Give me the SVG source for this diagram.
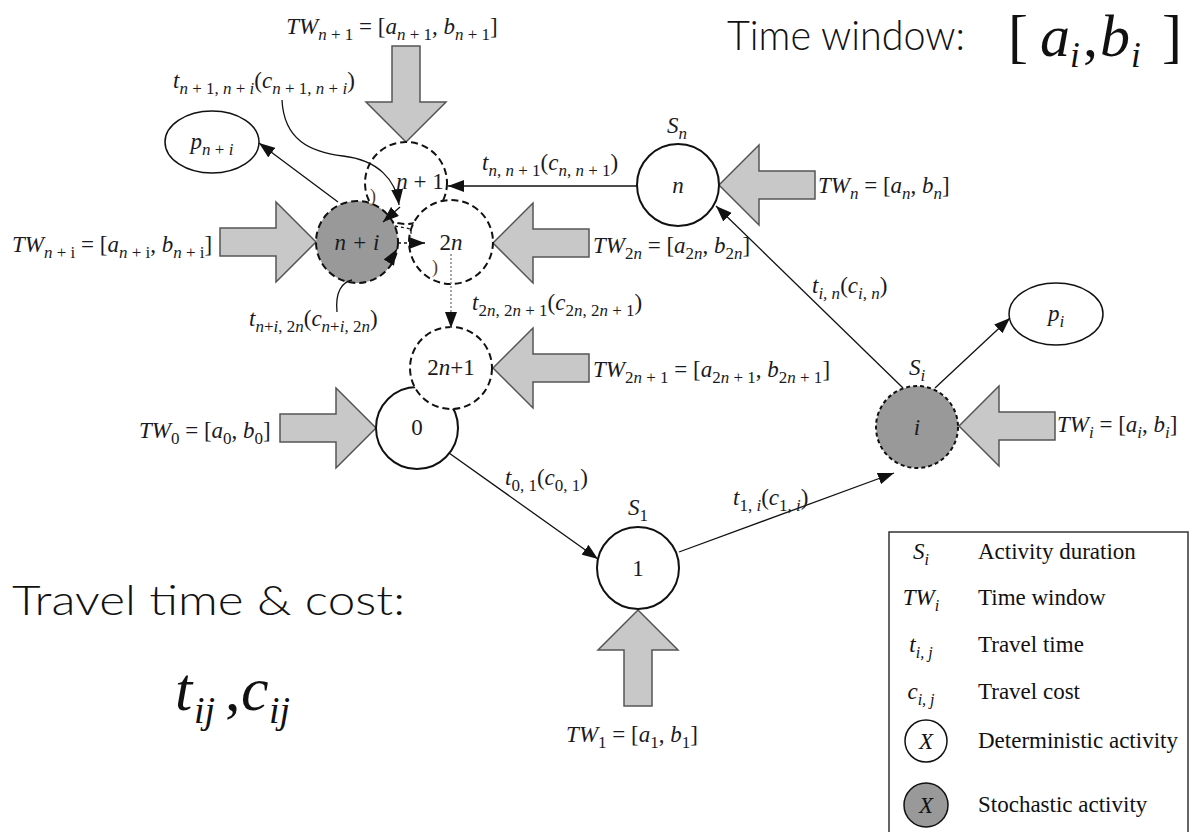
<svg xmlns="http://www.w3.org/2000/svg" width="1192" height="832" viewBox="0 0 1192 832">
<style>
.lb{font-family:"Liberation Serif","Times New Roman",serif;font-size:23px;fill:#1a1a22}
.it{font-style:italic}
.sb{font-size:17px}
.nd{stroke:#111;stroke-width:2}
.ds{stroke-dasharray:7,4}
.dt{stroke-dasharray:4,3}
.wh{fill:#fff}
.gr{fill:#999}
.blk{fill:#c8c8c8;stroke:#555;stroke-width:1.5}
.cn{stroke:#111;stroke-width:1.3;fill:none}
.sans{font-family:Lato,"Open Sans","Liberation Sans",sans-serif;font-size:42px;font-weight:300;fill:#111}
.big{font-family:"Liberation Serif","Times New Roman",serif;fill:#111}
.lg{font-family:"Liberation Serif","Times New Roman",serif;font-size:23px;fill:#111}
.par{font-family:"Liberation Serif",serif;font-size:18px;fill:#5a3a1a}
</style>
<defs>
<polygon id="blk" class="blk" points="-96,-14 -40,-14 -40,-40 0,0 -40,40 -40,14 -96,14"/>
<marker id="ah" viewBox="0 0 16 12" refX="16" refY="6" markerWidth="16" markerHeight="12" markerUnits="userSpaceOnUse" orient="auto">
<path d="M0,0 L16,6 L0,12 z" fill="#111"/>
</marker>
</defs>
<rect width="1192" height="832" fill="#fff"/>

<!-- titles -->
<text class="sans" x="727" y="50" textLength="238" lengthAdjust="spacingAndGlyphs">Time window:</text>
<text class="big" y="56" font-size="60"><tspan x="1008">[</tspan><tspan x="1040" class="it">a</tspan><tspan x="1070" y="67" font-size="35" class="it">i</tspan><tspan x="1083" y="56">,</tspan><tspan x="1100" class="it">b</tspan><tspan x="1131" y="67" font-size="35" class="it">i</tspan><tspan x="1162" y="56">]</tspan></text>
<text class="sans" x="12" y="615" textLength="393" lengthAdjust="spacingAndGlyphs">Travel time &amp; cost:</text>
<text class="big" y="710" font-size="62"><tspan x="175" class="it">t</tspan><tspan x="194" y="723" font-size="38" class="it">ij</tspan><tspan x="225" y="710">,</tspan><tspan x="241" class="it">c</tspan><tspan x="269" y="723" font-size="38" class="it">ij</tspan></text>

<!-- block arrows (time windows) -->
<g id="tw-arrows">
<use href="#blk" transform="translate(406,142) rotate(90)"/>
<use href="#blk" transform="translate(316,242)"/>
<use href="#blk" transform="translate(493,243) rotate(180)"/>
<use href="#blk" transform="translate(719,185) rotate(180)"/>
<use href="#blk" transform="translate(493,368) rotate(180)"/>
<use href="#blk" transform="translate(376,428)"/>
<use href="#blk" transform="translate(959,426) rotate(180)"/>
<use href="#blk" transform="translate(638,610) rotate(-90)"/>
</g>

<!-- nodes -->
<g id="node-n1"><circle class="nd ds wh" cx="406" cy="183" r="41"/></g>
<g id="node-ni"><circle class="nd ds gr" cx="357" cy="242" r="41"/></g>
<g id="node-2n"><circle class="nd ds wh" cx="451" cy="242" r="42"/></g>
<g id="node-0"><circle class="nd wh" cx="417" cy="428" r="41"/></g>
<g id="node-2n1"><circle class="nd ds wh" cx="451" cy="368" r="41"/></g>
<g id="node-n"><circle class="nd wh" cx="678" cy="185" r="41"/></g>
<g id="node-1"><circle class="nd wh" cx="638" cy="568" r="41"/></g>
<g id="node-i"><circle class="nd dt gr" cx="917" cy="427" r="41"/></g>
<g id="node-pni"><ellipse class="wh" stroke="#111" stroke-width="1.5" cx="212" cy="142" rx="47" ry="31"/></g>
<g id="node-pi"><ellipse class="wh" stroke="#111" stroke-width="1.5" cx="1056" cy="314" rx="47" ry="31"/></g>

<!-- connectors -->
<g id="connectors">
<line class="cn" x1="449" y1="453" x2="598" y2="559" marker-end="url(#ah)"/>
<line class="cn" x1="679" y1="552" x2="894" y2="473" marker-end="url(#ah)"/>
<line class="cn" x1="903" y1="388" x2="716" y2="206" marker-end="url(#ah)"/>
<line class="cn" x1="935" y1="388" x2="1010" y2="318" marker-end="url(#ah)"/>
<line class="cn" x1="637" y1="186" x2="448" y2="186" marker-end="url(#ah)"/>
<line class="cn" x1="338" y1="202" x2="259" y2="143" marker-end="url(#ah)"/>
<line x1="451" y1="254" x2="451" y2="328" stroke="#888" stroke-width="1.5" stroke-dasharray="2,2" marker-end="url(#ah)"/>
<line class="cn" x1="398" y1="243" x2="425" y2="243" stroke-dasharray="3,3" marker-end="url(#ah)"/>
<line class="cn" x1="400" y1="207" x2="383" y2="222" marker-end="url(#ah)"/>
<path class="cn" d="M282,100 C284,140 310,152 343,156 C378,160 396,180 399,205" marker-end="url(#ah)"/>
<path class="cn" d="M337,312 C335,292 342,282 352,280"/>
<line class="cn" x1="391" y1="259" x2="397" y2="249" marker-end="url(#ah)"/>
<path class="cn" d="M395,226 L411,229 L411,237" stroke-dasharray="3,3"/>
</g>

<!-- labels -->
<g id="labels">
<text class="lb" x="392" y="34" text-anchor="middle"><tspan class="it">TW</tspan><tspan class="sb" dy="6"><tspan class="it">n</tspan> + 1</tspan><tspan dy="-6"> = [</tspan><tspan class="it">a</tspan><tspan class="sb" dy="6"><tspan class="it">n</tspan> + 1</tspan><tspan dy="-6">, </tspan><tspan class="it">b</tspan><tspan class="sb" dy="6"><tspan class="it">n</tspan> + 1</tspan><tspan dy="-6">]</tspan></text>
<text class="lb" x="173" y="88"><tspan class="it">t</tspan><tspan class="sb" dy="6"><tspan class="it">n</tspan> + 1, <tspan class="it">n</tspan> + <tspan class="it">i</tspan></tspan><tspan dy="-6">(</tspan><tspan class="it">c</tspan><tspan class="sb" dy="6"><tspan class="it">n</tspan> + 1, <tspan class="it">n</tspan> + <tspan class="it">i</tspan></tspan><tspan dy="-6">)</tspan></text>
<text class="lb" x="212" y="149" text-anchor="middle"><tspan class="it">p</tspan><tspan class="sb" dy="6"><tspan class="it">n</tspan> + <tspan class="it">i</tspan></tspan></text>
<text class="lb" x="420" y="189" text-anchor="middle"><tspan class="it">n</tspan> + 1</text>
<text class="lb" x="482" y="170"><tspan class="it">t</tspan><tspan class="sb" dy="6"><tspan class="it">n</tspan>, <tspan class="it">n</tspan> + 1</tspan><tspan dy="-6">(</tspan><tspan class="it">c</tspan><tspan class="sb" dy="6"><tspan class="it">n</tspan>, <tspan class="it">n</tspan> + 1</tspan><tspan dy="-6">)</tspan></text>
<text class="lb" x="677" y="133" text-anchor="middle"><tspan class="it">S</tspan><tspan class="sb it" dy="6">n</tspan></text>
<text class="lb it" x="678" y="193" text-anchor="middle">n</text>
<text class="lb" x="818" y="193"><tspan class="it">TW</tspan><tspan class="sb it" dy="6">n</tspan><tspan dy="-6"> = [</tspan><tspan class="it">a</tspan><tspan class="sb it" dy="6">n</tspan><tspan dy="-6">, </tspan><tspan class="it">b</tspan><tspan class="sb it" dy="6">n</tspan><tspan dy="-6">]</tspan></text>
<text class="lb" x="12" y="252"><tspan class="it">TW</tspan><tspan class="sb" dy="6"><tspan class="it">n</tspan> + i</tspan><tspan dy="-6"> = [</tspan><tspan class="it">a</tspan><tspan class="sb" dy="6"><tspan class="it">n</tspan> + i</tspan><tspan dy="-6">, </tspan><tspan class="it">b</tspan><tspan class="sb" dy="6"><tspan class="it">n</tspan> + i</tspan><tspan dy="-6">]</tspan></text>
<text class="lb it" x="357" y="250" text-anchor="middle">n + i</text>
<text class="lb" x="451" y="250" text-anchor="middle">2<tspan class="it">n</tspan></text>
<text class="lb" x="593" y="253"><tspan class="it">TW</tspan><tspan class="sb" dy="6">2<tspan class="it">n</tspan></tspan><tspan dy="-6"> = [</tspan><tspan class="it">a</tspan><tspan class="sb" dy="6">2<tspan class="it">n</tspan></tspan><tspan dy="-6">, </tspan><tspan class="it">b</tspan><tspan class="sb" dy="6">2<tspan class="it">n</tspan></tspan><tspan dy="-6">]</tspan></text>
<text class="lb" x="812" y="293"><tspan class="it">t</tspan><tspan class="sb it" dy="6">i, n</tspan><tspan dy="-6">(</tspan><tspan class="it">c</tspan><tspan class="sb it" dy="6">i, n</tspan><tspan dy="-6">)</tspan></text>
<text class="lb" x="1056" y="321" text-anchor="middle"><tspan class="it">p</tspan><tspan class="sb it" dy="6">i</tspan></text>
<text class="lb" x="249" y="326"><tspan class="it">t</tspan><tspan class="sb" dy="6"><tspan class="it">n</tspan>+<tspan class="it">i</tspan>, 2<tspan class="it">n</tspan></tspan><tspan dy="-6">(</tspan><tspan class="it">c</tspan><tspan class="sb" dy="6"><tspan class="it">n</tspan>+<tspan class="it">i</tspan>, 2<tspan class="it">n</tspan></tspan><tspan dy="-6">)</tspan></text>
<text class="lb" x="472" y="310"><tspan class="it">t</tspan><tspan class="sb" dy="6">2<tspan class="it">n</tspan>, 2<tspan class="it">n</tspan> + 1</tspan><tspan dy="-6">(</tspan><tspan class="it">c</tspan><tspan class="sb" dy="6">2<tspan class="it">n</tspan>, 2<tspan class="it">n</tspan> + 1</tspan><tspan dy="-6">)</tspan></text>
<text class="lb" x="451" y="375" text-anchor="middle">2<tspan class="it">n</tspan>+1</text>
<text class="lb" x="593" y="377"><tspan class="it">TW</tspan><tspan class="sb" dy="6">2<tspan class="it">n</tspan> + 1</tspan><tspan dy="-6"> = [</tspan><tspan class="it">a</tspan><tspan class="sb" dy="6">2<tspan class="it">n</tspan> + 1</tspan><tspan dy="-6">, </tspan><tspan class="it">b</tspan><tspan class="sb" dy="6">2<tspan class="it">n</tspan> + 1</tspan><tspan dy="-6">]</tspan></text>
<text class="lb" x="917" y="375" text-anchor="middle"><tspan class="it">S</tspan><tspan class="sb it" dy="6">i</tspan></text>
<text class="lb" x="139" y="438"><tspan class="it">TW</tspan><tspan class="sb" dy="6">0</tspan><tspan dy="-6"> = [</tspan><tspan class="it">a</tspan><tspan class="sb" dy="6">0</tspan><tspan dy="-6">, </tspan><tspan class="it">b</tspan><tspan class="sb" dy="6">0</tspan><tspan dy="-6">]</tspan></text>
<text class="lb" x="417" y="435" text-anchor="middle">0</text>
<text class="lb it" x="917" y="435" text-anchor="middle">i</text>
<text class="lb" x="1057" y="432"><tspan class="it">TW</tspan><tspan class="sb it" dy="6">i</tspan><tspan dy="-6"> = [</tspan><tspan class="it">a</tspan><tspan class="sb it" dy="6">i</tspan><tspan dy="-6">, </tspan><tspan class="it">b</tspan><tspan class="sb it" dy="6">i</tspan><tspan dy="-6">]</tspan></text>
<text class="lb" x="505" y="485"><tspan class="it">t</tspan><tspan class="sb" dy="6">0, 1</tspan><tspan dy="-6">(</tspan><tspan class="it">c</tspan><tspan class="sb" dy="6">0, 1</tspan><tspan dy="-6">)</tspan></text>
<text class="lb" x="638" y="515" text-anchor="middle"><tspan class="it">S</tspan><tspan class="sb" dy="6">1</tspan></text>
<text class="lb" x="733" y="505"><tspan class="it">t</tspan><tspan class="sb" dy="6">1, <tspan class="it">i</tspan></tspan><tspan dy="-6">(</tspan><tspan class="it">c</tspan><tspan class="sb" dy="6">1, <tspan class="it">i</tspan></tspan><tspan dy="-6">)</tspan></text>
<text class="lb" x="638" y="576" text-anchor="middle">1</text>
<text class="lb" x="632" y="742" text-anchor="middle"><tspan class="it">TW</tspan><tspan class="sb" dy="6">1</tspan><tspan dy="-6"> = [</tspan><tspan class="it">a</tspan><tspan class="sb" dy="6">1</tspan><tspan dy="-6">, </tspan><tspan class="it">b</tspan><tspan class="sb" dy="6">1</tspan><tspan dy="-6">]</tspan></text>
<text class="par" x="370" y="202">)</text>
<text class="par" x="432" y="273">)</text>
</g>

<!-- legend -->
<g id="legend">
<rect x="889" y="532" width="299" height="312" fill="#fff" stroke="#333" stroke-width="1.5"/>
<text class="lg" x="921" y="559" text-anchor="middle"><tspan class="it">S</tspan><tspan class="it" font-size="16" dy="6">i</tspan></text>
<text class="lg" x="978" y="559">Activity duration</text>
<text class="lg" x="921" y="605" text-anchor="middle"><tspan class="it">TW</tspan><tspan class="it" font-size="16" dy="6">i</tspan></text>
<text class="lg" x="978" y="605">Time window</text>
<text class="lg" x="921" y="652" text-anchor="middle"><tspan class="it">t</tspan><tspan class="it" font-size="16" dy="6">i, j</tspan></text>
<text class="lg" x="978" y="652">Travel time</text>
<text class="lg" x="921" y="699" text-anchor="middle"><tspan class="it">c</tspan><tspan class="it" font-size="16" dy="6">i, j</tspan></text>
<text class="lg" x="978" y="699">Travel cost</text>
<circle cx="926" cy="741" r="21" fill="#fff" stroke="#111" stroke-width="1.5"/>
<text class="lg it" x="926" y="749" text-anchor="middle">X</text>
<text class="lg" x="978" y="748">Deterministic activity</text>
<circle cx="926" cy="805" r="22" fill="#999" stroke="#111" stroke-width="1.5"/>
<text class="lg it" x="926" y="813" text-anchor="middle">X</text>
<text class="lg" x="978" y="812">Stochastic activity</text>
</g>
</svg>
